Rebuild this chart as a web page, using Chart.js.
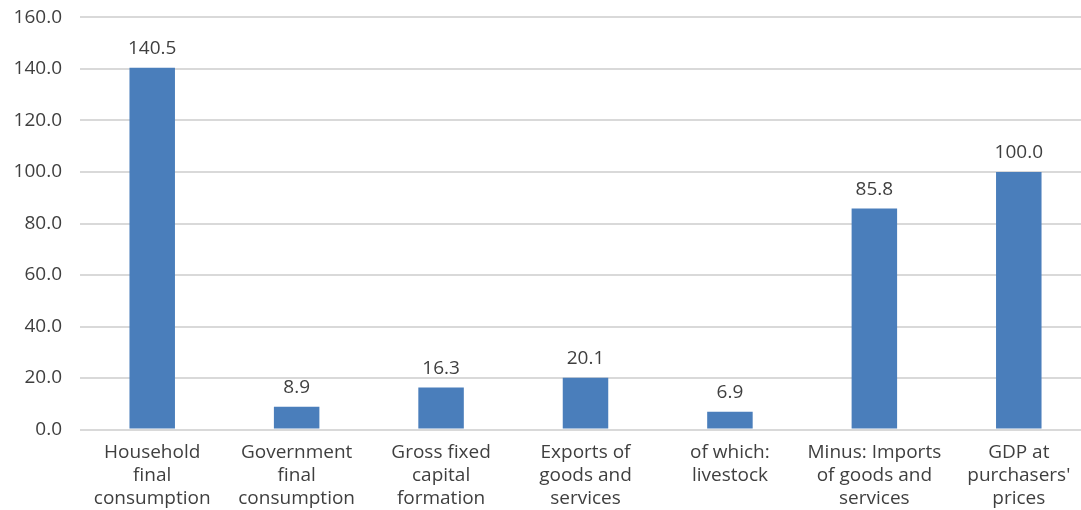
<!DOCTYPE html>
<html>
<head>
<meta charset="utf-8">
<script src="https://cdn.jsdelivr.net/npm/chart.js@4"></script>
<style>
  html, body { margin: 0; padding: 0; background: #fff; overflow: hidden; }
  #wrap { width: 1091px; height: 526px; margin-top: -12px; }
</style>
</head>
<body>
<div id="wrap"><canvas id="gdpChart"></canvas></div>
<script>
const categories = [
  ['Household', 'final', 'consumption'],
  ['Government', 'final', 'consumption'],
  ['Gross fixed', 'capital', 'formation'],
  ['Exports of', 'goods and', 'services'],
  ['of which:', 'livestock'],
  ['Minus: Imports', 'of goods and', 'services'],
  ['GDP at', "purchasers'", 'prices']
];
const shares = [140.5, 8.9, 16.3, 20.1, 6.9, 85.8, 100.0];
const yTicks = [0, 20, 40, 60, 80, 100, 120, 140, 160];

const textColor = '#3f3f3f';
const fontFamily = '"Open Sans", sans-serif';

// value labels above each bar
const barLabels = {
  id: 'barLabels',
  afterDatasetsDraw(chart) {
    const ctx = chart.ctx;
    const meta = chart.getDatasetMeta(0);
    ctx.save();
    ctx.fillStyle = textColor;
    ctx.font = '19px ' + fontFamily;
    ctx.textAlign = 'center';
    ctx.textBaseline = 'alphabetic';
    meta.data.forEach((bar, i) => {
      ctx.fillText(shares[i].toFixed(1), bar.x, bar.y - 14);
    });
    ctx.restore();
  }
};

new Chart(document.getElementById('gdpChart'), {
  type: 'bar',
  data: {
    labels: categories,
    datasets: [{
      data: shares,
      backgroundColor: '#4a7ebb',
      barPercentage: 0.63,
      categoryPercentage: 0.5
    }]
  },
  options: {
    responsive: true,
    maintainAspectRatio: false,
    animation: false,
    layout: { padding: { top: 0, right: 0, left: 0, bottom: 0 } },
    plugins: {
      legend: { display: false },
      tooltip: { enabled: false }
    },
    scales: {
      x: {
        grid: { display: false },
        border: { display: false },
        ticks: {
          color: textColor,
          font: { size: 19, family: fontFamily, lineHeight: 1.2 },
          maxRotation: 0,
          autoSkip: false,
          padding: 4
        }
      },
      y: {
        min: 0,
        max: 160,
        afterBuildTicks(scale) {
          scale.ticks = yTicks.map(v => ({ value: v }));
        },
        afterFit(scale) { scale.width = 80; },
        grid: { color: '#d9d9d9', lineWidth: 2, drawTicks: false },
        border: { display: false },
        ticks: {
          color: textColor,
          font: { size: 19, family: fontFamily },
          padding: 18,
          callback: v => v.toFixed(1)
        }
      }
    }
  },
  plugins: [barLabels]
});
</script>
</body>
</html>
